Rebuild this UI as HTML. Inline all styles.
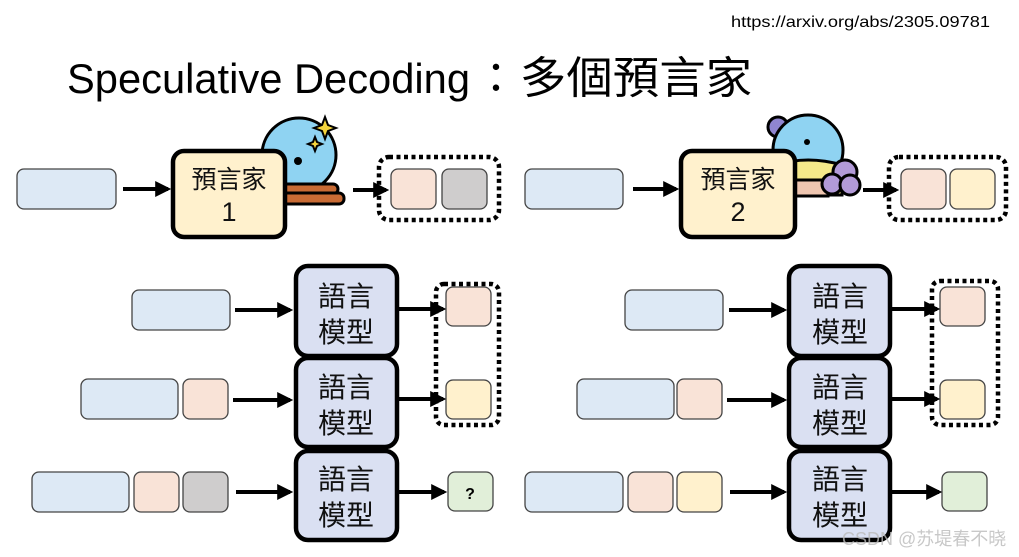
<!DOCTYPE html>
<html><head><meta charset="utf-8"><style>
body{margin:0;background:#fff}
svg{display:block}
text{font-family:"Liberation Sans","Noto Sans CJK TC",sans-serif}
</style></head><body>
<svg width="1019" height="557" viewBox="0 0 1019 557" xmlns="http://www.w3.org/2000/svg">
<defs>
<marker id="ah" markerWidth="4" markerHeight="4" refX="3.2" refY="2" orient="auto" markerUnits="strokeWidth">
<path d="M0,0 L4,2 L0,4 z" fill="#000"/>
</marker>
</defs>
<text x="731" y="27" font-size="16" textLength="259" lengthAdjust="spacingAndGlyphs">https://arxiv.org/abs/2305.09781</text>
<text x="67" y="93" font-size="42" textLength="403" lengthAdjust="spacingAndGlyphs">Speculative Decoding</text>
<text x="475" y="93" font-size="42">：</text>
<text x="520" y="93" font-size="44" textLength="232" lengthAdjust="spacingAndGlyphs">多個預言家</text>

<g stroke="#444" stroke-width="1.3">
<rect x="17" y="169" width="99" height="40" rx="7" fill="#dde9f5"/>
<rect x="391" y="169" width="45" height="40" rx="7" fill="#f9e3d7"/>
<rect x="442" y="169" width="45" height="40" rx="7" fill="#cfcdcd"/>
<rect x="525" y="169" width="98" height="40" rx="7" fill="#dde9f5"/>
<rect x="901" y="169" width="45" height="40" rx="7" fill="#f9e3d7"/>
<rect x="950" y="169" width="45" height="40" rx="7" fill="#fff1cd"/>
<rect x="132" y="290" width="98" height="40" rx="7" fill="#dde9f5"/>
<rect x="81" y="379" width="97" height="40" rx="7" fill="#dde9f5"/>
<rect x="183" y="379" width="45" height="40" rx="7" fill="#f9e3d7"/>
<rect x="32" y="472" width="97" height="40" rx="7" fill="#dde9f5"/>
<rect x="134" y="472" width="45" height="40" rx="7" fill="#f9e3d7"/>
<rect x="183" y="472" width="45" height="40" rx="7" fill="#cfcdcd"/>
<rect x="446" y="287" width="45" height="39" rx="7" fill="#f9e3d7"/>
<rect x="446" y="380" width="45" height="39" rx="7" fill="#fff1cd"/>
<rect x="448" y="472" width="45" height="39" rx="7" fill="#e1efd9"/>
<rect x="625" y="290" width="98" height="40" rx="7" fill="#dde9f5"/>
<rect x="577" y="379" width="97" height="40" rx="7" fill="#dde9f5"/>
<rect x="677" y="379" width="45" height="40" rx="7" fill="#f9e3d7"/>
<rect x="525" y="472" width="98" height="40" rx="7" fill="#dde9f5"/>
<rect x="628" y="472" width="45" height="40" rx="7" fill="#f9e3d7"/>
<rect x="677" y="472" width="45" height="40" rx="7" fill="#fff1cd"/>
<rect x="940" y="287" width="45" height="39" rx="7" fill="#f9e3d7"/>
<rect x="940" y="380" width="45" height="39" rx="7" fill="#fff1cd"/>
<rect x="942" y="472" width="45" height="39" rx="7" fill="#e1efd9"/>
</g>
<text x="470" y="499" font-size="16" font-weight="bold" text-anchor="middle">?</text>

<g fill="none" stroke="#000" stroke-width="4.5" stroke-dasharray="4,3.5">
<rect x="379" y="157" width="120" height="63" rx="10"/>
<rect x="889" y="157" width="117" height="63" rx="10"/>
<rect x="436" y="284" width="63" height="141" rx="8"/>
<rect x="932" y="281" width="66" height="144" rx="8"/>
</g>

<g stroke="#000" stroke-width="3">
<circle cx="299" cy="155" r="37" fill="#8fd3f2"/>
<rect x="262" y="184" width="76" height="10" rx="5" fill="#c96b34"/>
<rect x="268" y="193" width="76" height="11" rx="5" fill="#c96b34"/>
</g>
<path d="M325 117 l3 8 8 3 -8 3 -3 8 -3 -8 -8 -3 8 -3z" fill="#f4d43c" stroke="#000" stroke-width="2"/>
<path d="M315 137 l2 5 5 2 -5 2 -2 5 -2 -5 -5 -2 5 -2z" fill="#f4d43c" stroke="#000" stroke-width="2"/>
<circle cx="298" cy="161" r="4" fill="#000"/>
<g stroke="#000" stroke-width="3">
<circle cx="778" cy="127" r="10" fill="#8f85d0"/>
<circle cx="808" cy="150" r="35" fill="#8fd3f2"/>
<path d="M775 165 Q808 155 842 165 L842 195 L775 195z" fill="#f5e98a"/>
<rect x="788" y="180" width="40" height="16" fill="#efc6b0"/>
<circle cx="845" cy="172" r="12" fill="#b29ad8"/>
<circle cx="832" cy="184" r="10" fill="#b29ad8"/>
<circle cx="850" cy="185" r="10" fill="#b29ad8"/>
</g>
<circle cx="807" cy="142" r="3" fill="#000"/>

<g stroke="#000" stroke-width="4.5" fill="#fff1cd">
<rect x="173" y="151" width="112" height="86" rx="11"/>
<rect x="681" y="151" width="114" height="86" rx="11"/>
</g>
<g font-size="25" text-anchor="middle" fill="#111">
<text x="229" y="188">預言家</text><text x="229" y="221" font-size="27">1</text>
<text x="738" y="188">預言家</text><text x="738" y="221" font-size="27">2</text>
</g>

<g stroke="#000" stroke-width="4.5" fill="#dae0f2">
<rect x="296" y="266" width="101" height="90" rx="12"/>
<rect x="296" y="358" width="101" height="89" rx="12"/>
<rect x="296" y="451" width="101" height="89" rx="12"/>
<rect x="789" y="266" width="101" height="90" rx="12"/>
<rect x="789" y="358" width="101" height="89" rx="12"/>
<rect x="789" y="451" width="101" height="89" rx="12"/>
</g>
<g font-size="28" text-anchor="middle" fill="#111">
<text x="346" y="306">語言</text><text x="346" y="342">模型</text>
<text x="346" y="397">語言</text><text x="346" y="433">模型</text>
<text x="346" y="489">語言</text><text x="346" y="525">模型</text>
<text x="840" y="306">語言</text><text x="840" y="342">模型</text>
<text x="840" y="397">語言</text><text x="840" y="433">模型</text>
<text x="840" y="489">語言</text><text x="840" y="525">模型</text>
</g>

<g stroke="#000" stroke-width="4" marker-end="url(#ah)">
<line x1="123" y1="189" x2="168" y2="189"/>
<line x1="353" y1="190" x2="386" y2="190"/>
<line x1="633" y1="189" x2="676" y2="189"/>
<line x1="863" y1="190" x2="896" y2="190"/>
<line x1="235" y1="310" x2="290" y2="310"/>
<line x1="233" y1="400" x2="290" y2="400"/>
<line x1="236" y1="492" x2="290" y2="492"/>
<line x1="399" y1="309" x2="443" y2="309"/>
<line x1="399" y1="399" x2="443" y2="399"/>
<line x1="399" y1="492" x2="444" y2="492"/>
<line x1="729" y1="310" x2="784" y2="310"/>
<line x1="727" y1="400" x2="784" y2="400"/>
<line x1="730" y1="492" x2="784" y2="492"/>
<line x1="892" y1="309" x2="937" y2="309"/>
<line x1="892" y1="399" x2="937" y2="399"/>
<line x1="892" y1="492" x2="939" y2="492"/>
</g>
<text x="842" y="545" font-size="18" fill="#bbb" opacity="0.8">CSDN @苏堤春不晓</text>
</svg>
</body></html>
